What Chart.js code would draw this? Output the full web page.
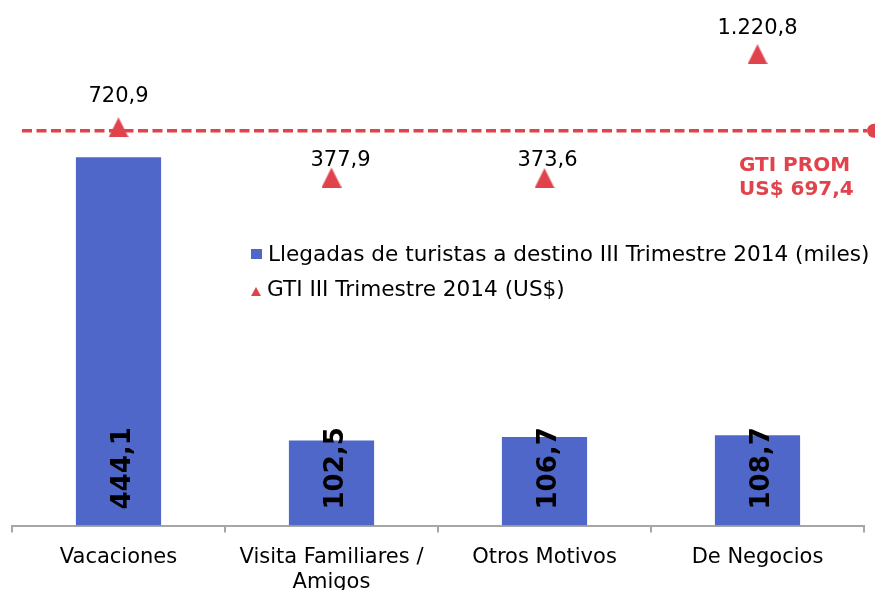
<!DOCTYPE html>
<html>
<head>
<meta charset="utf-8">
<title>Llegadas y GTI III Trimestre 2014</title>
<script src="https://cdn.jsdelivr.net/npm/chart.js"></script>
<style>
    body { margin: 0; background: #ffffff; }
    #wrap { width: 875px; height: 590px; }
</style>
</head>
<body>
<div id="wrap"><canvas id="myChart" width="875" height="590"></canvas></div>
<script>
// Chart data
const categories = ['Vacaciones', ['Visita Familiares /', 'Amigos'], 'Otros Motivos', 'De Negocios'];
const llegadas = [444.1, 102.5, 106.7, 108.7];
const gti = [720.9, 377.9, 373.6, 1220.8];
const gtiPromedio = 697.4;
const seriesNames = ['Llegadas de turistas a destino III Trimestre 2014 (miles)', 'GTI III Trimestre 2014 (US$)'];
const promTitle = 'GTI PROM';

// Styles
const barColor = '#4F67C8';
const gtiColor = '#E0434B';
const fontFamily = "'DejaVu Sans', Verdana, sans-serif";
const labelLift = [25, 12, 12, 20];
const labelShift = [0, 9, 3, 0];

document.addEventListener('DOMContentLoaded', function () {
    initializeChart();
});

// 1.220,8 style numbers
function formatNumber(value) {
    const parts = value.toFixed(1).split('.');
    const intPart = parts[0].replace(/\B(?=(\d{3})+(?!\d))/g, '.');
    return intPart + ',' + parts[1];
}

// Triangle marker for the GTI series
function makeTriangle(size) {
    const c = document.createElement('canvas');
    c.width = size;
    c.height = size;
    const t = c.getContext('2d');
    t.fillStyle = gtiColor;
    t.beginPath();
    t.moveTo(size / 2, 0);
    t.lineTo(size, size);
    t.lineTo(0, size);
    t.closePath();
    t.fill();
    return c;
}

// Average line, value labels and legend
const extrasPlugin = {
    id: 'extras',
    afterDatasetsDraw(chart) {
        const ctx = chart.ctx;
        const area = chart.chartArea;
        const y1 = chart.scales.y1;

        // GTI average line
        const lineY = y1.getPixelForValue(gtiPromedio);
        ctx.save();
        ctx.strokeStyle = gtiColor;
        ctx.lineWidth = 3.5;
        ctx.setLineDash([10, 4.5]);
        ctx.beginPath();
        ctx.moveTo(area.left + 10, lineY);
        ctx.lineTo(area.right + 3, lineY);
        ctx.stroke();
        ctx.setLineDash([]);
        ctx.fillStyle = gtiColor;
        ctx.beginPath();
        ctx.arc(area.right + 10, lineY, 7, 0, Math.PI * 2);
        ctx.fill();

        ctx.font = 'bold 20px ' + fontFamily;
        ctx.textAlign = 'left';
        ctx.textBaseline = 'alphabetic';
        ctx.fillText(promTitle, 739, lineY + 40);
        ctx.fillText('US$ ' + formatNumber(gtiPromedio), 739, lineY + 64);
        ctx.restore();

        // Bar labels, rotated
        const bars = chart.getDatasetMeta(0).data;
        ctx.save();
        ctx.fillStyle = '#000000';
        ctx.font = 'bold 26px ' + fontFamily;
        ctx.textAlign = 'left';
        ctx.textBaseline = 'alphabetic';
        bars.forEach((bar, i) => {
            ctx.save();
            ctx.translate(bar.x + 11, bar.base - 16);
            ctx.rotate(-Math.PI / 2);
            ctx.fillText(formatNumber(llegadas[i]), 0, 0);
            ctx.restore();
        });
        ctx.restore();

        // Point labels
        const points = chart.getDatasetMeta(1).data;
        ctx.save();
        ctx.fillStyle = '#000000';
        ctx.font = '21px ' + fontFamily;
        ctx.textAlign = 'center';
        ctx.textBaseline = 'alphabetic';
        points.forEach((pt, i) => {
            ctx.fillText(formatNumber(gti[i]), pt.x + labelShift[i], pt.y - labelLift[i]);
        });
        ctx.restore();

        // Legend
        ctx.save();
        ctx.fillStyle = barColor;
        ctx.fillRect(251, 249, 11, 10);
        ctx.fillStyle = gtiColor;
        ctx.beginPath();
        ctx.moveTo(256, 287);
        ctx.lineTo(261, 296);
        ctx.lineTo(251, 296);
        ctx.closePath();
        ctx.fill();
        ctx.fillStyle = '#000000';
        ctx.font = '21.6px ' + fontFamily;
        ctx.textAlign = 'left';
        ctx.textBaseline = 'alphabetic';
        ctx.fillText(seriesNames[0], 268, 261);
        ctx.fillText(seriesNames[1], 267, 296);
        ctx.restore();
    }
};

// Chart Initialization
function initializeChart() {
    Chart.defaults.font.family = fontFamily;
    const ctx = document.getElementById('myChart').getContext('2d');
    new Chart(ctx, {
        type: 'bar',
        data: {
            labels: categories,
            datasets: [{
                label: seriesNames[0],
                data: llegadas,
                backgroundColor: barColor,
                borderWidth: 0,
                barPercentage: 0.4,
                categoryPercentage: 1,
                yAxisID: 'y',
                order: 2
            }, {
                type: 'line',
                label: seriesNames[1],
                data: gti,
                showLine: false,
                pointStyle: makeTriangle(20),
                pointRadius: 10,
                pointHoverRadius: 10,
                backgroundColor: gtiColor,
                borderColor: gtiColor,
                yAxisID: 'y1',
                order: 1
            }]
        },
        options: {
            responsive: false,
            devicePixelRatio: 1,
            animation: false,
            layout: {
                padding: { left: 12, right: 10, top: 28, bottom: 0 }
            },
            plugins: {
                legend: { display: false },
                tooltip: { enabled: false }
            },
            scales: {
                x: {
                    offset: true,
                    afterFit: function (scale) { scale.height = 64.5; },
                    grid: {
                        offset: true,
                        drawOnChartArea: false,
                        drawTicks: true,
                        tickLength: 7,
                        color: '#A6A6A6',
                        lineWidth: 2
                    },
                    border: { display: true, color: '#A6A6A6', width: 2 },
                    ticks: {
                        color: '#000000',
                        font: { size: 21, family: fontFamily },
                        padding: 12,
                        maxRotation: 0,
                        autoSkip: false
                    }
                },
                y: {
                    display: false,
                    min: 0,
                    max: 600
                },
                y1: {
                    display: false,
                    position: 'right',
                    min: -2000,
                    max: 1400
                }
            }
        },
        plugins: [extrasPlugin]
    });
}
</script>
</body>
</html>
